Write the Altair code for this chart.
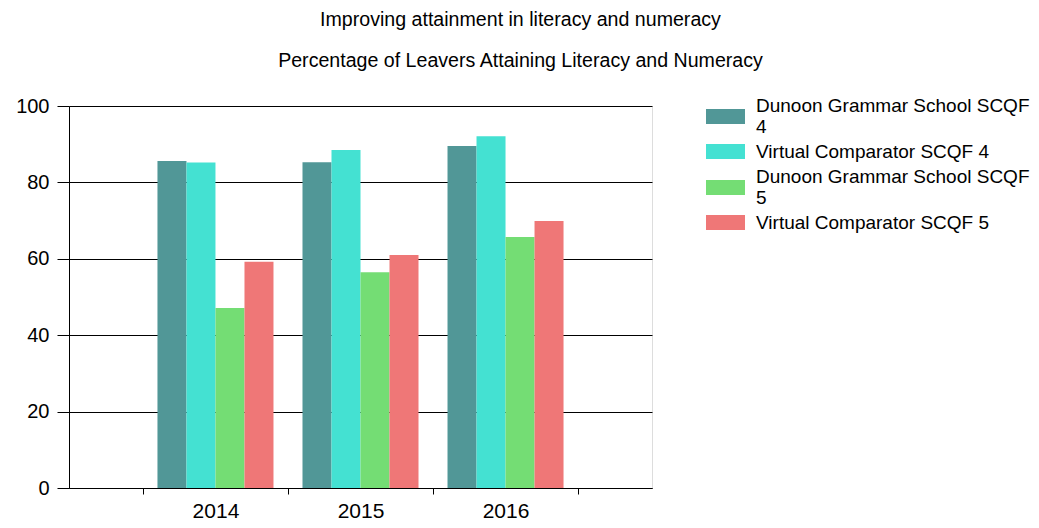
import altair as alt
import pandas as pd

years = ["2014", "2015", "2016"]
series = [
    "Dunoon Grammar School SCQF 4",
    "Virtual Comparator SCQF 4",
    "Dunoon Grammar School SCQF 5",
    "Virtual Comparator SCQF 5",
]
dgs4 = [85.6, 85.3, 89.5]
vc4 = [85.2, 88.5, 92.1]
dgs5 = [47.1, 56.5, 65.7]
vc5 = [59.2, 61.0, 69.9]
colors = ["#519797", "#44E1D2", "#74DD74", "#EF7777"]
y_ticks = [0, 20, 40, 60, 80, 100]

rows = []
for s, vals in zip(series, [dgs4, vc4, dgs5, vc5]):
    for yr, v in zip(years, vals):
        rows.append({"year": yr, "series": s, "value": v})
df = pd.DataFrame(rows)

FONT = "Liberation Sans"

wrap_expr = (
    "length(datum.label) > 26 ? "
    "[substring(datum.label, 0, lastindexof(datum.label, ' ')), "
    "substring(datum.label, lastindexof(datum.label, ' ') + 1)] : datum.label"
)
baseline_expr = "length(datum.label) > 26 ? 'line-bottom' : 'middle'"

chart = alt.Chart(df).mark_bar().encode(
    x=alt.X(
        "year:O",
        sort=years,
        scale=alt.Scale(paddingInner=0, paddingOuter=0.51),
        axis=alt.Axis(
            title=None,
            labelAngle=0,
            labelFont=FONT,
            labelFontSize=21,
            labelColor="#000000",
            labelPadding=6,
            tickBand="extent",
            tickSize=6,
            tickColor="#000000",
            domainColor="#000000",
            grid=False,
        ),
    ),
    xOffset=alt.XOffset(
        "series:N", sort=series, scale=alt.Scale(paddingInner=0, paddingOuter=0.5)
    ),
    y=alt.Y(
        "value:Q",
        scale=alt.Scale(domain=[0, 100], nice=False),
        axis=alt.Axis(
            title=None,
            values=y_ticks,
            labelFont=FONT,
            labelFontSize=20,
            labelColor="#000000",
            labelPadding=8,
            tickSize=12,
            tickColor="#000000",
            domainColor="#000000",
            grid=True,
            gridColor="#000000",
            gridOpacity=1,
        ),
    ),
    color=alt.Color(
        "series:N",
        sort=series,
        scale=alt.Scale(domain=series, range=colors),
        legend=alt.Legend(
            title=None,
            orient="none",
            legendX=635,
            legendY=-11,
            padding=12,
            symbolType="M-2.6,-1H2.6V1H-2.6Z",
            symbolSize=225,
            symbolStrokeWidth=0,
            symbolOpacity=1,
            labelFont=FONT,
            labelFontSize=19,
            labelColor="#000000",
            labelLimit=400,
            labelOffset=21,
            labelBaseline=alt.ExprRef(baseline_expr),
            rowPadding=5,
            labelExpr=wrap_expr,
        ),
    ),
).properties(
    width=583,
    height=382,
    title=alt.TitleParams(
        text="Improving attainment in literacy and numeracy",
        subtitle="Percentage of Leavers Attaining Literacy and Numeracy",
        anchor="middle",
        dx=160,
        font=FONT,
        fontSize=19.6,
        fontWeight="normal",
        color="#000000",
        subtitleFont=FONT,
        subtitleFontSize=19.6,
        subtitleColor="#000000",
        subtitlePadding=22,
        offset=23,
    ),
    padding={"left": 61, "top": 98, "right": 379, "bottom": 32},
    autosize=alt.AutoSizeParams(type="none"),
).configure_view(
    strokeWidth=0
).configure(
    background="#FFFFFF"
)

chart.save("out.html", embed_options={"renderer": "svg", "actions": False})
